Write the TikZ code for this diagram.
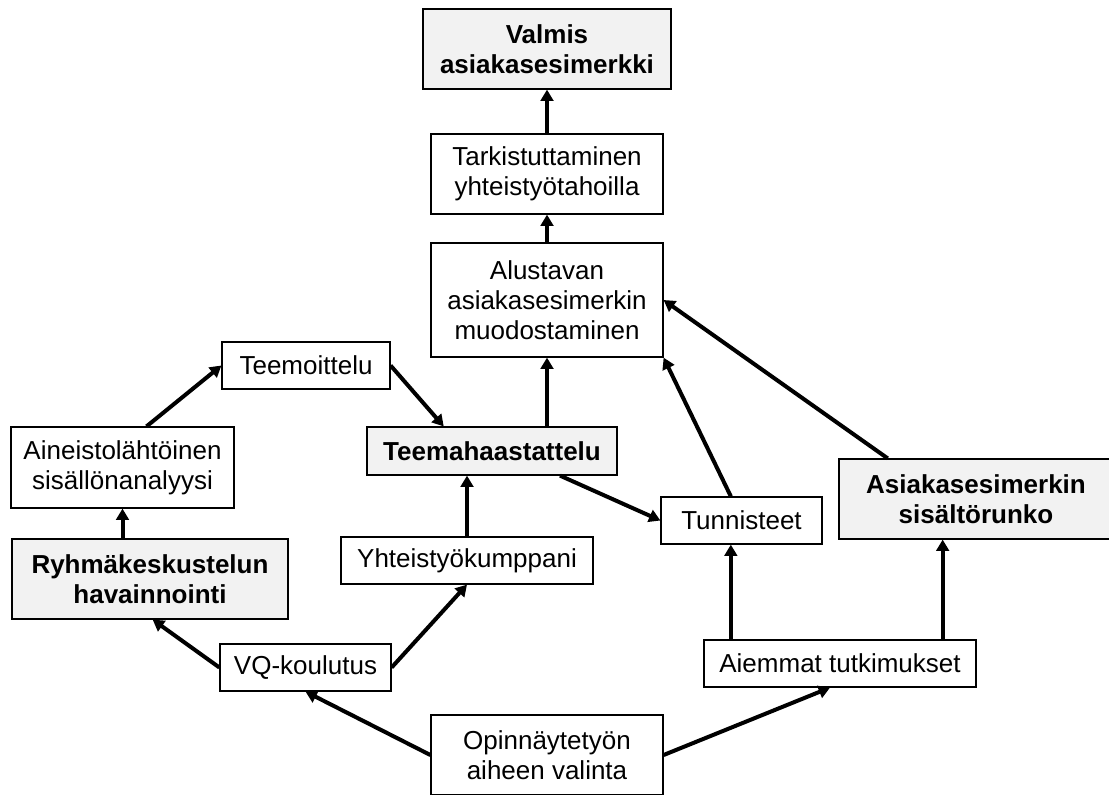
\documentclass[tikz,border=0pt]{standalone}
\usepackage{fontspec}
\setmainfont{Liberation Sans}
\usetikzlibrary{arrows.meta}

\begin{document}
\begin{tikzpicture}[x=0.75pt,y=-0.75pt,
  box/.style={draw,line width=0.9pt,inner sep=0pt,align=center,font=\fontsize{19.5}{22.5}\selectfont},
  keybox/.style={box,fill=gray!10,font=\fontsize{19.5}{22.5}\selectfont\bfseries},
  arr/.style={line width=3pt,-{Triangle[length=8.5pt,width=9.5pt]}}]
\useasboundingbox (0,0) rectangle (1109,794);

\node [keybox,minimum width=186pt,minimum height=60pt] (valmis) at (547,49) {Valmis\\asiakasesimerkki};
\node [box,minimum width=174pt,minimum height=60pt] (tark) at (547,174) {Tarkistuttaminen\\yhteistyötahoilla};
\node [box,minimum width=174pt,minimum height=85.5pt] (alu) at (547,300) {Alustavan\\asiakasesimerkin\\muodostaminen};
\node [box,minimum width=126pt,minimum height=35.25pt] (teemoit) at (306,365.5) {Teemoittelu};
\node [box,minimum width=167.25pt,minimum height=60.75pt] (aineisto) at (122.5,467.5) {Aineistolähtöinen\\sisällönanalyysi};
\node [keybox,minimum width=207pt,minimum height=60pt] (ryhma) at (150,579) {Ryhmäkeskustelun\\havainnointi};
\node [box,minimum width=128.25pt,minimum height=35.25pt] (vq) at (305.5,667.5) {VQ-koulutus};
\node [keybox,minimum width=187.5pt,minimum height=36pt] (teema) at (492,451) {Teemahaastattelu};
\node [box,minimum width=189pt,minimum height=35.25pt] (yht) at (467,560.5) {Yhteistyökumppani};
\node [box,minimum width=174pt,minimum height=60pt] (opin) at (547,755) {Opinnäytetyön\\aiheen valinta};
\node [box,minimum width=120.75pt,minimum height=35.25pt] (tun) at (741.5,520.5) {Tunnisteet};
\node [keybox,minimum width=205.5pt,minimum height=60pt] (asiak) at (976,499) {Asiakasesimerkin\\sisältörunko};
\node [box,minimum width=204pt,minimum height=35.25pt] (aiemmat) at (840,663.5) {Aiemmat tutkimukset};

\draw [arr] (tark) -- (valmis);
\draw [arr] (alu) -- (tark);
\draw [arr] (teema.north -| alu.south) -- (alu.south);
\draw [arr] ([xshift=-8pt]tun.north) -- (alu.south east);
\draw [arr] ([xshift=37pt]asiak.north west) -- (alu.east);
\draw [arr] (teemoit.east) -- ([xshift=58pt]teema.north west);
\draw [arr] ([xshift=18pt]aineisto.north) -- (teemoit.west);
\draw [arr] (ryhma.north -| aineisto.south) -- (aineisto.south);
\draw [arr] (vq.west) -- ([xshift=2pt]ryhma.south);
\draw [arr] (vq.east) -- (yht.south);
\draw [arr] (yht.north) -- (yht.north |- teema.south);
\draw [arr] ([xshift=51pt]teema.south) -- (tun.west);
\draw [arr] (opin.west) -- (vq.south);
\draw [arr] (opin.east) -- ([xshift=-7.5pt]aiemmat.south);
\draw [arr] ([xshift=-8pt]tun.south |- aiemmat.north) -- ([xshift=-8pt]tun.south);
\draw [arr] ([xshift=-25pt]asiak.south |- aiemmat.north) -- ([xshift=-25pt]asiak.south);
\end{tikzpicture}
\end{document}
